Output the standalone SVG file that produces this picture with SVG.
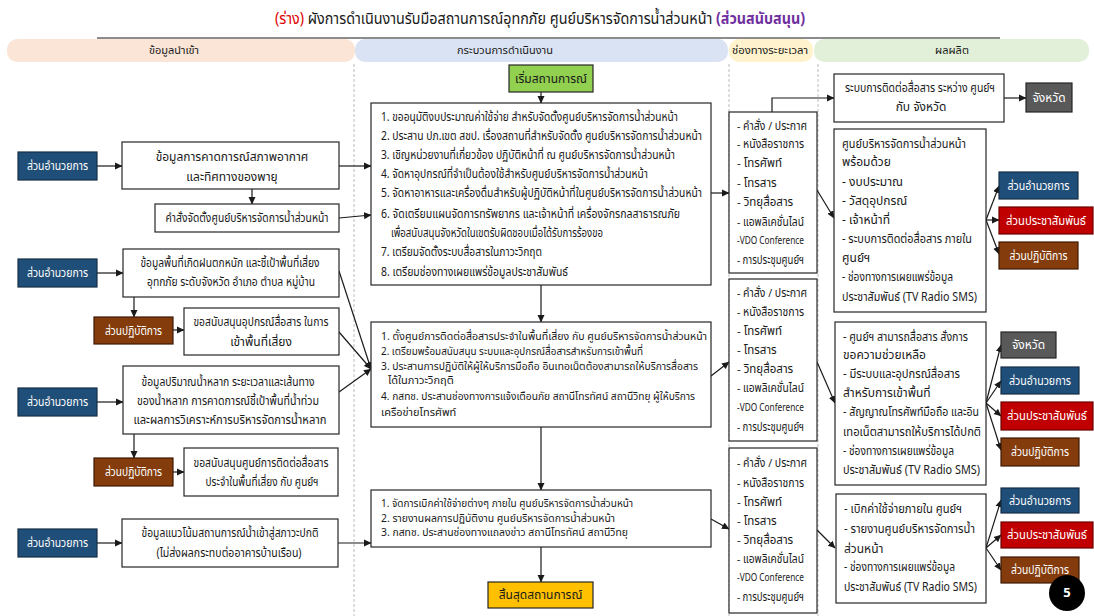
<svg xmlns="http://www.w3.org/2000/svg" width="1094" height="616" viewBox="0 0 1094 616">
<style>
text{font-family:"Noto Sans Thai","Noto Sans","DejaVu Sans",sans-serif;fill:#1a1a1a;}
.t{font-size:12px;dominant-baseline:central;}
.s{font-size:11px;dominant-baseline:central;}
.ch{font-size:11.5px;dominant-baseline:central;}
.c{text-anchor:middle;}
.w{fill:#fff;}
.box{fill:#fff;stroke:#262626;stroke-width:1.2;}
.blue{fill:#1f4e79;stroke:#172f45;stroke-width:1.2;}
.red{fill:#c00000;stroke:#6b0000;stroke-width:1.2;}
.brown{fill:#843c0c;stroke:#3d1a05;stroke-width:1.2;}
.gray{fill:#595959;stroke:#262626;stroke-width:1.2;}
.sep{stroke:#c8c8c8;stroke-width:1.2;stroke-dasharray:3 2;fill:none;}
.con{stroke:#1a1a1a;stroke-width:1.2;fill:none;marker-end:url(#ah);}
.hd{font-size:11px;dominant-baseline:central;text-anchor:middle;}
</style>
<defs>
<marker id="ah" markerUnits="userSpaceOnUse" markerWidth="8" markerHeight="8" refX="7" refY="4" orient="auto">
<path d="M0,0.5 L7.5,4 L0,7.5 z" fill="#1a1a1a"/>
</marker>
</defs>
<rect width="1094" height="616" fill="#fff"/>
<g id="title">
<text x="275" y="19" textLength="530" lengthAdjust="spacingAndGlyphs" style="font-size:16px;dominant-baseline:central"><tspan fill="#e00000">(ร่าง)</tspan> ผังการดำเนินงานรับมือสถานการณ์อุทกภัย ศูนย์บริหารจัดการน้ำส่วนหน้า <tspan fill="#7030a0" font-weight="bold">(ส่วนสนับสนุน)</tspan></text>
<line x1="97" y1="38" x2="1000" y2="38" stroke="#1a1a1a" stroke-width="1.2"/>
</g>
<g id="headers">
<rect x="7" y="39" width="348" height="23" rx="10" fill="#fbe5d6"/>
<rect x="355" y="39" width="373" height="23" rx="10" fill="#dae3f3"/>
<rect x="729" y="39" width="84" height="23" rx="10" fill="#fff2cc"/>
<rect x="814" y="39" width="275" height="23" rx="10" fill="#e2f0d9"/>
<text x="174" y="50" class="hd">ข้อมูลนำเข้า</text>
<text x="505" y="50" class="hd">กระบวนการดำเนินงาน</text>
<text x="770" y="50" class="hd" textLength="76" lengthAdjust="spacingAndGlyphs">ช่องทางระยะเวลา</text>
<text x="952" y="50" class="hd">ผลผลิต</text>
</g>
<g id="separators">
<line x1="354" y1="64" x2="354" y2="616" class="sep"/>
<line x1="729" y1="64" x2="729" y2="616" class="sep"/>
<line x1="818" y1="64" x2="818" y2="616" class="sep"/>
</g>
<g id="connectors">
<line x1="97" y1="166" x2="122" y2="166" class="con"/>
<line x1="252" y1="189" x2="252" y2="204" class="con"/>
<line x1="339" y1="166" x2="371" y2="166" class="con"/>
<line x1="339" y1="218" x2="371" y2="215" class="con"/>
<line x1="97" y1="273" x2="123" y2="273" class="con"/>
<line x1="134" y1="297" x2="134" y2="317" class="con"/>
<line x1="173" y1="330" x2="184" y2="330" class="con"/>
<line x1="97" y1="402" x2="123" y2="402" class="con"/>
<line x1="339" y1="271" x2="371" y2="369" class="con"/>
<line x1="339" y1="332" x2="371" y2="369" class="con"/>
<line x1="339" y1="392" x2="371" y2="369" class="con"/>
<line x1="134" y1="434" x2="134" y2="458" class="con"/>
<line x1="173" y1="472" x2="184" y2="472" class="con"/>
<line x1="97" y1="543" x2="122" y2="543" class="con"/>
<line x1="338" y1="543" x2="371" y2="543" class="con"/>
<line x1="541" y1="92" x2="541" y2="103" class="con"/>
<line x1="541" y1="285" x2="541" y2="322" class="con"/>
<line x1="541" y1="427" x2="541" y2="490" class="con"/>
<line x1="541" y1="547" x2="541" y2="582" class="con"/>
<line x1="711" y1="193" x2="729" y2="193" class="con"/>
<line x1="711" y1="376" x2="729" y2="362" class="con"/>
<line x1="711" y1="519" x2="729" y2="529" class="con"/>
<polyline points="772,112 772,98 834,98" class="con"/>
<line x1="817" y1="190" x2="834" y2="218" class="con"/>
<line x1="1004" y1="98" x2="1026" y2="98" class="con"/>
<line x1="986" y1="220" x2="999" y2="186" class="con"/>
<line x1="986" y1="220" x2="999" y2="220" class="con"/>
<line x1="986" y1="220" x2="999" y2="254" class="con"/>
<line x1="817" y1="362" x2="835" y2="403" class="con"/>
<line x1="986" y1="403" x2="1001" y2="345" class="con"/>
<line x1="986" y1="403" x2="1001" y2="381" class="con"/>
<line x1="986" y1="403" x2="1001" y2="416" class="con"/>
<line x1="986" y1="403" x2="1001" y2="450" class="con"/>
<line x1="817" y1="530" x2="835" y2="548" class="con"/>
<line x1="986" y1="548" x2="1001" y2="500" class="con"/>
<line x1="986" y1="548" x2="1001" y2="535" class="con"/>
<line x1="986" y1="548" x2="1001" y2="570" class="con"/>
</g>
<g id="in-admin-1"><rect x="18" y="152" width="79" height="28" class="blue"/><text x="57.5" y="166" class="t c w" textLength="61" lengthAdjust="spacingAndGlyphs">ส่วนอำนวยการ</text></g>
<g id="in-weather"><rect x="122" y="142" width="217" height="47" class="box"/><text x="232" y="157" class="t c">ข้อมูลการคาดการณ์สภาพอากาศ</text><text x="232" y="177" class="t c">และทิศทางของพายุ</text></g>
<g id="in-order"><rect x="155" y="204" width="184" height="28" class="box"/><text x="247" y="218" class="t c" textLength="163" lengthAdjust="spacingAndGlyphs">คำสั่งจัดตั้งศูนย์บริหารจัดการน้ำส่วนหน้า</text></g>
<g id="in-admin-2"><rect x="18" y="259" width="79" height="28" class="blue"/><text x="57.5" y="273" class="t c w" textLength="61" lengthAdjust="spacingAndGlyphs">ส่วนอำนวยการ</text></g>
<g id="in-rain"><rect x="123" y="249" width="216" height="48" class="box"/><text x="230" y="263" class="t c" textLength="179" lengthAdjust="spacingAndGlyphs">ข้อมูลพื้นที่เกิดฝนตกหนัก และชี้เป้าพื้นที่เสี่ยง</text><text x="231" y="282" class="t c" textLength="168" lengthAdjust="spacingAndGlyphs">อุทกภัย ระดับจังหวัด อำเภอ ตำบล หมู่บ้าน</text></g>
<g id="in-ops-1"><rect x="94" y="317" width="79" height="27" class="brown"/><text x="133.5" y="330.5" class="t c w" textLength="57" lengthAdjust="spacingAndGlyphs">ส่วนปฏิบัติการ</text></g>
<g id="in-equip"><rect x="184" y="308" width="155" height="47" class="box"/><text x="261" y="322" class="t c" textLength="135" lengthAdjust="spacingAndGlyphs">ขอสนับสนุนอุปกรณ์สื่อสาร ในการ</text><text x="261" y="342" class="t c">เข้าพื้นที่เสี่ยง</text></g>
<g id="in-admin-3"><rect x="18" y="388" width="79" height="28" class="blue"/><text x="57.5" y="402" class="t c w" textLength="61" lengthAdjust="spacingAndGlyphs">ส่วนอำนวยการ</text></g>
<g id="in-flow"><rect x="123" y="366" width="216" height="68" class="box"/><text x="228" y="382" class="t c" textLength="173" lengthAdjust="spacingAndGlyphs">ข้อมูลปริมาณน้ำหลาก ระยะเวลาและเส้นทาง</text><text x="228" y="401" class="t c" textLength="182" lengthAdjust="spacingAndGlyphs">ของน้ำหลาก การคาดการณ์ชี้เป้าพื้นที่น้ำท่วม</text><text x="230" y="420" class="t c" textLength="193" lengthAdjust="spacingAndGlyphs">และผลการวิเคราะห์การบริหารจัดการน้ำหลาก</text></g>
<g id="in-ops-2"><rect x="94" y="458" width="79" height="28" class="brown"/><text x="133.5" y="472" class="t c w" textLength="57" lengthAdjust="spacingAndGlyphs">ส่วนปฏิบัติการ</text></g>
<g id="in-center"><rect x="184" y="448" width="154" height="48" class="box"/><text x="261" y="463" class="t c" textLength="135" lengthAdjust="spacingAndGlyphs">ขอสนับสนุนศูนย์การติดต่อสื่อสาร</text><text x="262" y="482" class="t c" textLength="113" lengthAdjust="spacingAndGlyphs">ประจำในพื้นที่เสี่ยง กับ ศูนย์ฯ</text></g>
<g id="in-admin-4"><rect x="18" y="529" width="79" height="28" class="blue"/><text x="57.5" y="543" class="t c w" textLength="61" lengthAdjust="spacingAndGlyphs">ส่วนอำนวยการ</text></g>
<g id="in-trend"><rect x="122" y="519" width="216" height="48" class="box"/><text x="230" y="533" class="t c" textLength="177" lengthAdjust="spacingAndGlyphs">ข้อมูลแนวโน้มสถานการณ์น้ำเข้าสู่สภาวะปกติ</text><text x="229" y="553" class="t c" textLength="145" lengthAdjust="spacingAndGlyphs">(ไม่ส่งผลกระทบต่ออาคารบ้านเรือน)</text></g>
<g id="start"><rect x="509" y="65" width="84" height="27" fill="#92d050" stroke="#262626" stroke-width="1.2"/><text x="551" y="78.5" class="t c">เริ่มสถานการณ์</text></g>
<g id="proc-1"><rect x="371" y="103" width="340" height="182" class="box"/>
<text x="381" y="117" class="t" textLength="297" lengthAdjust="spacingAndGlyphs">1. ขออนุมัติงบประมาณค่าใช้จ่าย สำหรับจัดตั้งศูนย์บริหารจัดการน้ำส่วนหน้า</text>
<text x="381" y="136" class="t" textLength="321" lengthAdjust="spacingAndGlyphs">2. ประสาน ปภ.เขต สชป. เรื่องสถานที่สำหรับจัดตั้ง ศูนย์บริหารจัดการน้ำส่วนหน้า</text>
<text x="381" y="155" class="t" textLength="294" lengthAdjust="spacingAndGlyphs">3. เชิญหน่วยงานที่เกี่ยวข้อง ปฏิบัติหน้าที่ ณ ศูนย์บริหารจัดการน้ำส่วนหน้า</text>
<text x="381" y="174" class="t" textLength="267" lengthAdjust="spacingAndGlyphs">4. จัดหาอุปกรณ์ที่จำเป็นต้องใช้สำหรับศูนย์บริหารจัดการน้ำส่วนหน้า</text>
<text x="381" y="193" class="t" textLength="321" lengthAdjust="spacingAndGlyphs">5. จัดหาอาหารและเครื่องดื่มสำหรับผู้ปฏิบัติหน้าที่ในศูนย์บริหารจัดการน้ำส่วนหน้า</text>
<text x="381" y="214" class="t" textLength="299" lengthAdjust="spacingAndGlyphs">6. จัดเตรียมแผนจัดการทรัพยากร และเจ้าหน้าที่ เครื่องจักรกลสาธารณภัย</text>
<text x="391" y="233" class="t" textLength="212" lengthAdjust="spacingAndGlyphs">เพื่อสนับสนุนจังหวัดในเขตรับผิดชอบเมื่อได้รับการร้องขอ</text>
<text x="381" y="252" class="t" textLength="161" lengthAdjust="spacingAndGlyphs">7. เตรียมจัดตั้งระบบสื่อสารในภาวะวิกฤต</text>
<text x="381" y="272" class="t" textLength="187" lengthAdjust="spacingAndGlyphs">8. เตรียมช่องทางเผยแพร่ข้อมูลประชาสัมพันธ์</text>
</g>
<g id="proc-2"><rect x="371" y="322" width="340" height="105" class="box"/>
<text x="381" y="336" class="s" textLength="326" lengthAdjust="spacingAndGlyphs">1. ตั้งศูนย์การติดต่อสื่อสารประจำในพื้นที่เสี่ยง กับ ศูนย์บริหารจัดการน้ำส่วนหน้า</text>
<text x="381" y="351" class="s" textLength="262" lengthAdjust="spacingAndGlyphs">2. เตรียมพร้อมสนับสนุน ระบบและอุปกรณ์สื่อสารสำหรับการเข้าพื้นที่</text>
<text x="381" y="366" class="s" textLength="317" lengthAdjust="spacingAndGlyphs">3. ประสานการปฏิบัติให้ผู้ให้บริการมือถือ อินเทอเน็ตต้องสามารถให้บริการสื่อสาร</text>
<text x="388" y="380" class="s">ได้ในภาวะวิกฤติ</text>
<text x="381" y="396" class="s" textLength="314" lengthAdjust="spacingAndGlyphs">4. กสทช. ประสานช่องทางการแจ้งเตือนภัย สถานีโทรทัศน์ สถานีวิทยุ ผู้ให้บริการ</text>
<text x="381" y="412" class="s">เครือข่ายโทรศัพท์</text>
</g>
<g id="proc-3"><rect x="371" y="490" width="340" height="57" class="box"/>
<text x="381" y="503" class="s" textLength="252" lengthAdjust="spacingAndGlyphs">1. จัดการเบิกค่าใช้จ่ายต่างๆ ภายใน ศูนย์บริหารจัดการน้ำส่วนหน้า</text>
<text x="381" y="518" class="s" textLength="234" lengthAdjust="spacingAndGlyphs">2. รายงานผลการปฏิบัติงาน ศูนย์บริหารจัดการน้ำส่วนหน้า</text>
<text x="381" y="532" class="s" textLength="247" lengthAdjust="spacingAndGlyphs">3. กสทช. ประสานช่องทางแถลงข่าว สถานีโทรทัศน์ สถานีวิทยุ</text>
</g>
<g id="end"><rect x="488" y="582" width="105" height="26" fill="#ffc000" stroke="#262626" stroke-width="1.2"/><text x="540.5" y="595" class="t c">สิ้นสุดสถานการณ์</text></g>
<g id="chan-1"><rect x="729" y="112" width="88" height="161" class="box"/>
<text x="737" y="126" class="ch" textLength="70" lengthAdjust="spacingAndGlyphs">- คำสั่ง / ประกาศ</text><text x="737" y="144" class="ch" textLength="67" lengthAdjust="spacingAndGlyphs">- หนังสือราชการ</text><text x="737" y="163" class="ch">- โทรศัพท์</text><text x="737" y="183" class="ch">- โทรสาร</text><text x="737" y="202" class="ch">- วิทยุสื่อสาร</text><text x="737" y="222" class="ch" textLength="67" lengthAdjust="spacingAndGlyphs">- แอพลิเคชั่นไลน์</text><text x="737" y="241" class="ch" style="font-size:10px" textLength="67" lengthAdjust="spacingAndGlyphs">-VDO Conference</text><text x="737" y="260" class="ch" textLength="67" lengthAdjust="spacingAndGlyphs">- การประชุมศูนย์ฯ</text>
</g>
<g id="chan-2"><rect x="729" y="279" width="88" height="162" class="box"/>
<text x="737" y="293" class="ch" textLength="70" lengthAdjust="spacingAndGlyphs">- คำสั่ง / ประกาศ</text><text x="737" y="312" class="ch" textLength="67" lengthAdjust="spacingAndGlyphs">- หนังสือราชการ</text><text x="737" y="331" class="ch">- โทรศัพท์</text><text x="737" y="350" class="ch">- โทรสาร</text><text x="737" y="369" class="ch">- วิทยุสื่อสาร</text><text x="737" y="388" class="ch" textLength="67" lengthAdjust="spacingAndGlyphs">- แอพลิเคชั่นไลน์</text><text x="737" y="408" class="ch" style="font-size:10px" textLength="67" lengthAdjust="spacingAndGlyphs">-VDO Conference</text><text x="737" y="427" class="ch" textLength="67" lengthAdjust="spacingAndGlyphs">- การประชุมศูนย์ฯ</text>
</g>
<g id="chan-3"><rect x="729" y="448" width="88" height="165" class="box"/>
<text x="737" y="463" class="ch" textLength="70" lengthAdjust="spacingAndGlyphs">- คำสั่ง / ประกาศ</text><text x="737" y="483" class="ch" textLength="67" lengthAdjust="spacingAndGlyphs">- หนังสือราชการ</text><text x="737" y="502" class="ch">- โทรศัพท์</text><text x="737" y="521" class="ch">- โทรสาร</text><text x="737" y="540" class="ch">- วิทยุสื่อสาร</text><text x="737" y="559" class="ch" textLength="67" lengthAdjust="spacingAndGlyphs">- แอพลิเคชั่นไลน์</text><text x="737" y="578" class="ch" style="font-size:10px" textLength="67" lengthAdjust="spacingAndGlyphs">-VDO Conference</text><text x="737" y="597" class="ch" textLength="67" lengthAdjust="spacingAndGlyphs">- การประชุมศูนย์ฯ</text>
</g>
<g id="out-comm"><rect x="834" y="74" width="170" height="48" class="box"/><text x="920" y="88" class="t c" textLength="150" lengthAdjust="spacingAndGlyphs">ระบบการติดต่อสื่อสาร ระหว่าง ศูนย์ฯ</text><text x="921" y="107" class="t c">กับ จังหวัด</text></g>
<g id="out-prov-1"><rect x="1026" y="83" width="46" height="29" class="gray"/><text x="1049" y="97.5" class="t c w">จังหวัด</text></g>
<g id="out-ready"><rect x="834" y="129" width="152" height="183" class="box"/>
<text x="842" y="144" class="t" textLength="124" lengthAdjust="spacingAndGlyphs">ศูนย์บริหารจัดการน้ำส่วนหน้า</text><text x="842" y="162" class="t">พร้อมด้วย</text><text x="842" y="182" class="t">- งบประมาณ</text><text x="842" y="201" class="t">- วัสดุอุปกรณ์</text><text x="842" y="220" class="t">- เจ้าหน้าที่</text><text x="842" y="239" class="t" textLength="130" lengthAdjust="spacingAndGlyphs">- ระบบการติดต่อสื่อสาร ภายใน</text><text x="842" y="258" class="t">ศูนย์ฯ</text><text x="842" y="277" class="t" textLength="111" lengthAdjust="spacingAndGlyphs">- ช่องทางการเผยแพร่ข้อมูล</text><text x="842" y="297" class="t" textLength="135" lengthAdjust="spacingAndGlyphs">ประชาสัมพันธ์ (TV Radio SMS)</text>
</g>
<g id="out-admin-1"><rect x="999" y="172" width="79" height="27" class="blue"/><text x="1038.5" y="185.5" class="t c w" textLength="62" lengthAdjust="spacingAndGlyphs">ส่วนอำนวยการ</text></g>
<g id="out-pr-1"><rect x="999" y="207" width="94" height="27" class="red"/><text x="1046" y="220.5" class="t c w" textLength="80" lengthAdjust="spacingAndGlyphs">ส่วนประชาสัมพันธ์</text></g>
<g id="out-ops-1"><rect x="999" y="242" width="79" height="27" class="brown"/><text x="1038.5" y="255.5" class="t c w" textLength="58" lengthAdjust="spacingAndGlyphs">ส่วนปฏิบัติการ</text></g>
<g id="out-status"><rect x="835" y="322" width="151" height="163" class="box"/>
<text x="843" y="337" class="t" textLength="125" lengthAdjust="spacingAndGlyphs">- ศูนย์ฯ สามารถสื่อสาร สั่งการ</text><text x="843" y="355" class="t">ขอความช่วยเหลือ</text><text x="843" y="374" class="t" textLength="117" lengthAdjust="spacingAndGlyphs">- มีระบบและอุปกรณ์สื่อสาร</text><text x="843" y="393" class="t">สำหรับการเข้าพื้นที่</text><text x="843" y="412" class="t" textLength="136" lengthAdjust="spacingAndGlyphs">- สัญญาณโทรศัพท์มือถือ และอิน</text><text x="843" y="432" class="t" textLength="138" lengthAdjust="spacingAndGlyphs">เทอเน็ตสามารถให้บริการได้ปกติ</text><text x="843" y="451" class="t" textLength="111" lengthAdjust="spacingAndGlyphs">- ช่องทางการเผยแพร่ข้อมูล</text><text x="843" y="470" class="t" textLength="137" lengthAdjust="spacingAndGlyphs">ประชาสัมพันธ์ (TV Radio SMS)</text>
</g>
<g id="out-prov-2"><rect x="1001" y="332" width="55" height="26" class="gray"/><text x="1028.5" y="345" class="t c w">จังหวัด</text></g>
<g id="out-admin-2"><rect x="1001" y="367" width="78" height="27" class="blue"/><text x="1040" y="380.5" class="t c w" textLength="62" lengthAdjust="spacingAndGlyphs">ส่วนอำนวยการ</text></g>
<g id="out-pr-2"><rect x="1001" y="402" width="92" height="28" class="red"/><text x="1047" y="416" class="t c w" textLength="80" lengthAdjust="spacingAndGlyphs">ส่วนประชาสัมพันธ์</text></g>
<g id="out-ops-2"><rect x="1001" y="438" width="78" height="28" class="brown"/><text x="1040" y="452" class="t c w" textLength="58" lengthAdjust="spacingAndGlyphs">ส่วนปฏิบัติการ</text></g>
<g id="out-close"><rect x="836" y="494" width="150" height="109" class="box"/>
<text x="844" y="509" class="t" textLength="118" lengthAdjust="spacingAndGlyphs">- เบิกค่าใช้จ่ายภายใน ศูนย์ฯ</text><text x="844" y="529" class="t" textLength="131" lengthAdjust="spacingAndGlyphs">- รายงานศูนย์บริหารจัดการน้ำ</text><text x="844" y="549" class="t">ส่วนหน้า</text><text x="844" y="567" class="t" textLength="111" lengthAdjust="spacingAndGlyphs">- ช่องทางการเผยแพร่ข้อมูล</text><text x="844" y="587" class="t" textLength="133" lengthAdjust="spacingAndGlyphs">ประชาสัมพันธ์ (TV Radio SMS)</text>
</g>
<g id="out-admin-3"><rect x="1001" y="488" width="78" height="25" class="blue"/><text x="1040" y="500.5" class="t c w" textLength="62" lengthAdjust="spacingAndGlyphs">ส่วนอำนวยการ</text></g>
<g id="out-pr-3"><rect x="1001" y="522" width="92" height="26" class="red"/><text x="1047" y="535" class="t c w" textLength="80" lengthAdjust="spacingAndGlyphs">ส่วนประชาสัมพันธ์</text></g>
<g id="out-ops-3"><rect x="1001" y="557" width="78" height="26" class="brown"/><text x="1040" y="570" class="t c w" textLength="58" lengthAdjust="spacingAndGlyphs">ส่วนปฏิบัติการ</text></g>
<g id="page-num"><circle cx="1067" cy="593" r="18" fill="#000"/><text x="1067" y="593" class="c" style="font-size:13px;font-weight:bold;fill:#fff;dominant-baseline:central">5</text></g>
</svg>
